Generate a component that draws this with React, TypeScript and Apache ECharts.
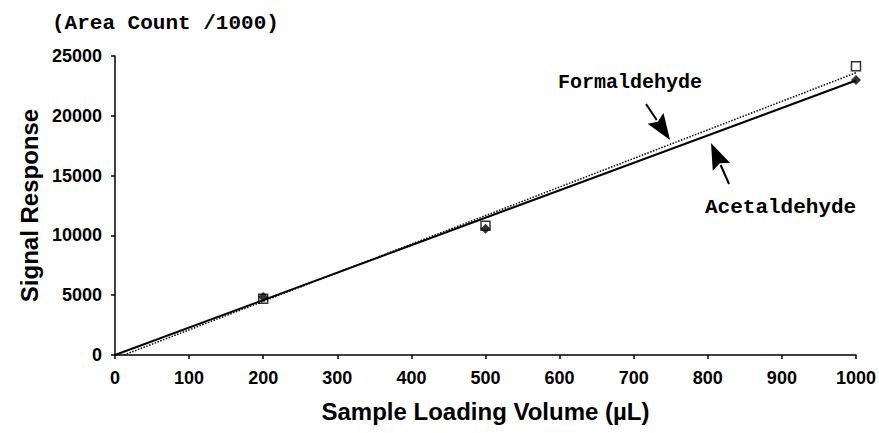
import React, { useEffect, useRef } from "react";
import * as echarts from "echarts";

const volumes = [200, 500, 1000];
const formaldehyde = [4700, 10800, 24150];
const acetaldehyde = [4850, 10550, 23000];
const formTrendX = [12, 1000];
const formTrendY = [0, 23600];
const acetTrendX = [0, 1000];
const acetTrendY = [0, 22950];
const yTicks = [0, 5000, 10000, 15000, 20000, 25000];

function arrow(x1: number, y1: number, x2: number, y2: number, headLen: number, headW: number) {
  const dx = x2 - x1;
  const dy = y2 - y1;
  const L = Math.sqrt(dx * dx + dy * dy);
  const ux = dx / L;
  const uy = dy / L;
  const bx = x2 - ux * headLen;
  const by = y2 - uy * headLen;
  const px = -uy * headW / 2;
  const py = ux * headW / 2;
  return [
    { type: "line", shape: { x1, y1, x2: bx + ux * 2, y2: by + uy * 2 }, style: { stroke: "#000", lineWidth: 2 } },
    {
      type: "polygon",
      shape: { points: [[x2, y2], [bx + px, by + py], [bx + ux * 4, by + uy * 4], [bx - px, by - py]] },
      style: { fill: "#000" },
    },
  ];
}

export default function App() {
  const ref = useRef<HTMLDivElement>(null);
  useEffect(() => {
    if (!ref.current) return;
    const chart = echarts.init(ref.current, null, { renderer: "svg" });
    const mono = "'Liberation Mono', 'Courier New', monospace";
    const sans = "'Liberation Sans', Arial, sans-serif";
    chart.setOption({
      animation: false,
      backgroundColor: "#fff",
      grid: { left: 115, right: 23, top: 56, bottom: 78 },
      xAxis: {
        type: "value",
        min: 0,
        max: 1000,
        interval: 100,
        name: "Sample Loading Volume (µL)",
        nameLocation: "middle",
        nameGap: 44,
        nameTextStyle: { fontFamily: sans, fontWeight: "bold", fontSize: 24, color: "#000" },
        axisLine: { show: true, lineStyle: { color: "#000", width: 1.5 } },
        axisTick: { show: true, length: 4, lineStyle: { color: "#000", width: 1.5 } },
        axisLabel: {
          margin: 14,
          fontFamily: sans,
          fontWeight: "bold",
          fontSize: 18,
          color: "#000",
          formatter: (v: number) => String(v),
        },
        splitLine: { show: false },
      },
      yAxis: {
        type: "value",
        min: yTicks[0],
        max: yTicks[yTicks.length - 1],
        interval: 5000,
        name: "Signal Response",
        nameLocation: "middle",
        nameGap: 68,
        nameTextStyle: { fontFamily: sans, fontWeight: "bold", fontSize: 24, color: "#000" },
        axisLine: { show: true, lineStyle: { color: "#000", width: 1.5 } },
        axisTick: { show: true, length: 4, lineStyle: { color: "#000", width: 1.5 } },
        axisLabel: {
          margin: 13,
          fontFamily: sans,
          fontWeight: "bold",
          fontSize: 18,
          color: "#000",
          formatter: (v: number) => String(v),
        },
        splitLine: { show: false },
      },
      series: [
        {
          name: "Formaldehyde trend",
          type: "line",
          data: formTrendX.map((x, i) => [x, formTrendY[i]]),
          symbol: "none",
          lineStyle: { color: "#000", width: 1.5, type: "dotted" },
          z: 2,
        },
        {
          name: "Acetaldehyde trend",
          type: "line",
          data: acetTrendX.map((x, i) => [x, acetTrendY[i]]),
          symbol: "none",
          lineStyle: { color: "#000", width: 2 },
          z: 2,
        },
        {
          name: "Acetaldehyde",
          type: "scatter",
          data: volumes.map((v, i) => [v, acetaldehyde[i]]),
          symbol: "diamond",
          symbolSize: 10,
          itemStyle: { color: "#000" },
          z: 3,
        },
        {
          name: "Formaldehyde",
          type: "scatter",
          data: volumes.map((v, i) => [v, formaldehyde[i]]),
          symbol: "rect",
          symbolSize: 9,
          itemStyle: { color: "rgba(255,255,255,0)", borderColor: "#000", borderWidth: 1.5 },
          z: 4,
        },
      ],
      graphic: [
        {
          type: "text",
          left: 52,
          top: 13,
          style: { text: "(Area Count /1000)", font: `bold 21px ${mono}`, fill: "#000" },
        },
        {
          type: "text",
          left: 558,
          top: 72,
          style: { text: "Formaldehyde", font: `bold 20px ${mono}`, fill: "#000" },
        },
        {
          type: "text",
          left: 705,
          top: 197,
          style: { text: "Acetaldehyde", font: `bold 21px ${mono}`, fill: "#000" },
        },
        ...arrow(646, 104, 670, 140, 26, 19),
        ...arrow(729, 184, 711, 143, 26, 19),
      ],
    });
    return () => chart.dispose();
  }, []);
  return <div ref={ref} style={{ position: "fixed", left: 0, top: 0, width: 879, height: 433 }} />;
}
